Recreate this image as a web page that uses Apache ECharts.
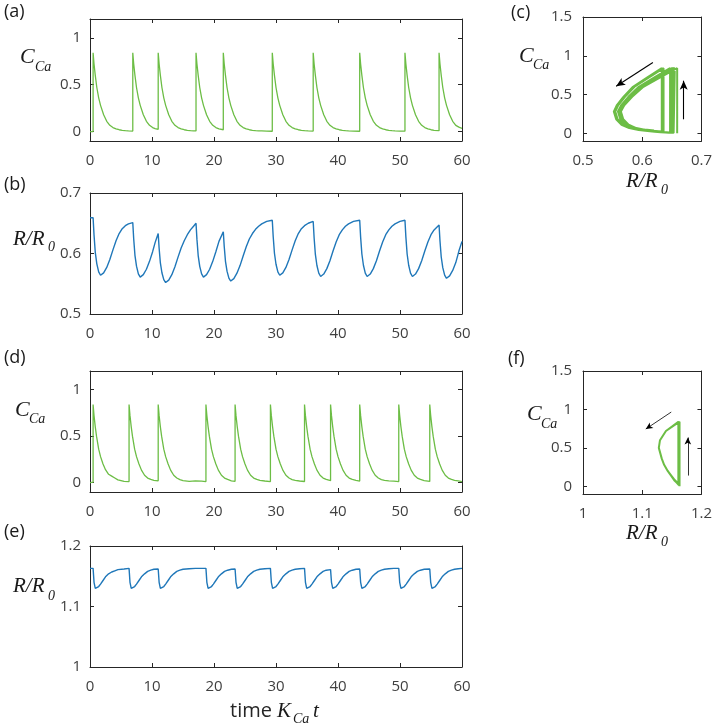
<!DOCTYPE html>
<html><head><meta charset="utf-8">
<script src="https://cdn.jsdelivr.net/npm/echarts@6/dist/echarts.min.js"></script>
<style>html,body{margin:0;padding:0;background:#fff}#c{width:715px;height:728px}</style>
</head><body><div id="c"></div>
<script>
// ---- panels (a),(b),(c): shared time base ----
const tAB = [0,0.5,0.5,0.65,0.85,1.1,1.4,1.7,2.2,2.7,3.2,3.7,4.2,4.7,5.2,5.7,6.2,6.9,
 6.9,7.05,7.25,7.5,7.8,8.1,8.6,9.1,9.6,10.1,10.5,11.0,
 11.0,11.15,11.35,11.6,11.9,12.2,12.7,13.2,13.7,14.2,14.7,15.2,15.7,16.2,16.7,17.1,
 17.1,17.25,17.45,17.7,18.0,18.3,18.8,19.3,19.8,20.3,20.8,21.5,
 21.5,21.65,21.85,22.1,22.4,22.7,23.2,23.7,24.2,24.7,25.2,25.7,26.2,26.7,27.2,27.7,28.5,29.4,
 29.4,29.55,29.75,30.0,30.3,30.6,31.1,31.6,32.1,32.6,33.1,33.6,34.1,34.6,35.2,36.0,
 36.0,36.15,36.35,36.6,36.9,37.2,37.7,38.2,38.7,39.2,39.7,40.2,40.7,41.2,41.7,42.5,43.5,
 43.5,43.65,43.85,44.1,44.4,44.7,45.2,45.7,46.2,46.7,47.2,47.7,48.2,48.7,49.2,50.0,50.8,
 50.8,50.95,51.15,51.4,51.7,52.0,52.5,53.0,53.5,54.0,54.5,55.0,55.5,56.3,
 56.3,56.45,56.65,56.9,57.2,57.5,58.0,58.5,59.0,59.5,60.0];
const cAB = [0,0,0.84,0.72,0.60,0.47,0.36,0.28,0.18,0.11,0.067,0.043,0.029,0.02,0.014,0.01,0.008,0.006,
 0.84,0.72,0.60,0.47,0.36,0.28,0.18,0.11,0.067,0.043,0.032,0.024,
 0.84,0.72,0.60,0.47,0.36,0.28,0.18,0.11,0.067,0.043,0.029,0.02,0.014,0.01,0.008,0.007,
 0.84,0.72,0.60,0.47,0.36,0.28,0.18,0.11,0.067,0.043,0.029,0.02,
 0.84,0.72,0.60,0.47,0.36,0.28,0.18,0.11,0.067,0.043,0.029,0.02,0.014,0.01,0.008,0.007,0.005,0.004,
 0.84,0.72,0.60,0.47,0.36,0.28,0.18,0.11,0.067,0.043,0.029,0.02,0.014,0.01,0.008,0.006,
 0.84,0.72,0.60,0.47,0.36,0.28,0.18,0.11,0.067,0.043,0.029,0.02,0.014,0.01,0.008,0.006,0.004,
 0.84,0.72,0.60,0.47,0.36,0.28,0.18,0.11,0.067,0.043,0.029,0.02,0.014,0.01,0.008,0.006,0.005,
 0.84,0.72,0.60,0.47,0.36,0.28,0.18,0.11,0.067,0.043,0.029,0.02,0.014,0.01,
 0.84,0.72,0.60,0.47,0.36,0.28,0.18,0.11,0.067,0.048,0.035];
const rAB = [0.659,0.659,0.659,0.6305,0.602,0.583,0.5697,0.564,0.568,0.577,0.590,0.606,0.621,0.633,0.641,0.646,0.649,0.651,
 0.651,0.624,0.597,0.579,0.5664,0.561,0.565,0.574,0.587,0.603,0.618,0.633,
 0.633,0.6087,0.5844,0.5682,0.5569,0.552,0.556,0.565,0.578,0.594,0.609,0.621,0.631,0.639,0.645,0.650,
 0.650,0.6233,0.5966,0.5788,0.5663,0.561,0.565,0.574,0.587,0.603,0.620,0.636,
 0.636,0.6115,0.5871,0.5708,0.5594,0.5545,0.5585,0.5675,0.580,0.596,0.611,0.624,0.633,0.640,0.645,0.649,0.653,0.655,
 0.655,0.6277,0.6004,0.5822,0.5695,0.564,0.568,0.577,0.590,0.606,0.621,0.633,0.641,0.646,0.650,0.653,
 0.653,0.6257,0.5984,0.5802,0.5675,0.562,0.566,0.575,0.588,0.604,0.619,0.631,0.639,0.645,0.649,0.653,0.655,
 0.655,0.6271,0.5992,0.5806,0.5676,0.562,0.566,0.575,0.588,0.604,0.619,0.631,0.639,0.645,0.649,0.653,0.655,
 0.655,0.6271,0.5992,0.5806,0.5676,0.562,0.566,0.575,0.588,0.604,0.619,0.631,0.639,0.647,
 0.647,0.6206,0.5942,0.5766,0.5643,0.559,0.563,0.572,0.585,0.604,0.620];

// ---- panels (d),(e),(f): shared time base ----
const tDE = [0,0.5,0.5,0.65,0.85,1.05,1.4,1.7,2.1,2.5,3.0,3.5,4.0,4.5,5.5,6.3,
 6.3,6.45,6.65,6.85,7.2,7.5,7.9,8.3,8.8,9.3,9.8,10.3,11.0,
 11.0,11.15,11.35,11.55,11.9,12.2,12.6,13.0,13.5,14.0,14.5,15.0,16.0,17.0,18.0,18.7,
 18.7,18.85,19.05,19.25,19.6,19.9,20.3,20.7,21.2,21.7,22.2,22.8,23.4,
 23.4,23.55,23.75,23.95,24.3,24.6,25.0,25.4,25.9,26.4,26.9,27.4,28.2,29.1,
 29.1,29.25,29.45,29.65,30.0,30.3,30.7,31.1,31.6,32.1,32.6,33.1,33.8,34.6,
 34.6,34.75,34.95,35.15,35.5,35.8,36.2,36.6,37.1,37.6,38.1,38.8,
 38.8,38.95,39.15,39.35,39.7,40.0,40.4,40.8,41.3,41.8,42.3,42.9,43.5,
 43.5,43.65,43.85,44.05,44.4,44.7,45.1,45.5,46.0,46.5,47.0,47.5,48.2,49.0,49.8,
 49.8,49.95,50.15,50.35,50.7,51.0,51.4,51.8,52.3,52.8,53.3,53.9,54.8,
 54.8,54.95,55.15,55.35,55.7,56.0,56.4,56.8,57.3,57.8,58.3,58.8,59.4,60.0];
const cDE = [0,0.005,0.84,0.72,0.60,0.50,0.36,0.28,0.20,0.14,0.09,0.07,0.05,0.03,0.015,0.012,
 0.84,0.72,0.60,0.50,0.36,0.28,0.20,0.135,0.08,0.05,0.035,0.025,0.02,
 0.84,0.72,0.60,0.50,0.36,0.28,0.20,0.135,0.08,0.05,0.033,0.022,0.015,0.02,0.016,0.012,
 0.84,0.72,0.60,0.50,0.36,0.28,0.20,0.135,0.08,0.05,0.035,0.02,0.015,
 0.84,0.72,0.60,0.50,0.36,0.28,0.20,0.135,0.08,0.05,0.035,0.025,0.018,0.012,
 0.84,0.72,0.60,0.50,0.36,0.28,0.20,0.135,0.08,0.05,0.033,0.025,0.018,0.013,
 0.84,0.72,0.60,0.50,0.36,0.28,0.20,0.135,0.08,0.05,0.035,0.022,
 0.84,0.72,0.60,0.50,0.36,0.28,0.20,0.135,0.08,0.05,0.035,0.025,0.018,
 0.84,0.72,0.60,0.50,0.36,0.28,0.20,0.135,0.08,0.05,0.033,0.025,0.02,0.016,0.012,
 0.84,0.72,0.60,0.50,0.36,0.28,0.20,0.135,0.08,0.05,0.035,0.022,0.014,
 0.84,0.72,0.60,0.50,0.36,0.28,0.20,0.135,0.08,0.05,0.035,0.025,0.02,0.012];
const rDE = [1.163,1.163,1.163,1.140,1.130,1.128,1.133,1.137,1.143,1.149,1.154,1.157,1.159,1.161,1.162,1.163,
 1.163,1.140,1.130,1.128,1.133,1.137,1.143,1.149,1.154,1.158,1.160,1.1615,1.162,
 1.162,1.140,1.130,1.128,1.133,1.137,1.143,1.149,1.154,1.158,1.160,1.1615,1.1625,1.163,1.163,1.163,
 1.163,1.140,1.130,1.128,1.133,1.137,1.143,1.149,1.154,1.158,1.160,1.1615,1.162,
 1.162,1.140,1.130,1.128,1.133,1.137,1.143,1.149,1.154,1.158,1.160,1.1615,1.1625,1.163,
 1.163,1.140,1.130,1.128,1.133,1.137,1.143,1.149,1.154,1.158,1.160,1.1615,1.1625,1.163,
 1.163,1.140,1.130,1.128,1.133,1.137,1.143,1.149,1.154,1.158,1.160,1.161,
 1.161,1.140,1.130,1.128,1.133,1.137,1.143,1.149,1.154,1.158,1.160,1.1615,1.162,
 1.162,1.140,1.130,1.128,1.133,1.137,1.143,1.149,1.154,1.158,1.160,1.1615,1.1625,1.163,1.163,
 1.163,1.140,1.130,1.128,1.133,1.137,1.143,1.149,1.154,1.158,1.160,1.1615,1.162,
 1.162,1.140,1.130,1.128,1.133,1.137,1.143,1.149,1.154,1.158,1.160,1.1615,1.1625,1.163];

// ---- tick labels ----
const timeTicks = [0,10,20,30,40,50,60];
const caTicksTS = [0,0.5,1];
const caTicksPP = [0,0.5,1,1.5];
const rTicksB = [0.5,0.6,0.7];
const rTicksE = [1,1.1,1.2];
const rTicksC = [0.5,0.6,0.7];
const rTicksF = [1,1.1,1.2];

// ---- arrow annotations (data coords) ----
const arrowsC = [[[0.618,0.913],[0.556,0.607]],[[0.670,0.18],[0.670,0.678]]];
const arrowsF = [[[1.149,0.966],[1.106,0.745]],[[1.177,0.14],[1.177,0.635]]];

const GREEN = '#6cbd45', BLUE = '#1f77b9', AXC = '#262626', LBLC = '#404040';
const TICKFONT = 'Open Sans';

const grids = [
  {left:90, top:19, width:372, height:122},
  {left:90, top:193, width:372, height:121},
  {left:90, top:371, width:372, height:121},
  {left:90, top:546, width:372, height:121},
  {left:583, top:17, width:122, height:124},
  {left:583, top:371, width:122, height:123}
];

function axis(grid, min, max, ticks, pos, showLabel, margin) {
  return {
    type:'value', gridIndex:grid, min:min, max:max, position:pos,
    axisLine:{show:true, onZero:false, lineStyle:{color:AXC, width:1}},
    axisTick:{show:true, inside:true, length:4, customValues:ticks, lineStyle:{color:AXC, width:1}},
    axisLabel:{show:showLabel, customValues:ticks, color:LBLC, fontSize:15, fontFamily:TICKFONT, margin:margin},
    splitLine:{show:false}
  };
}
const xSpec = [
  [0,60,timeTicks],[0,60,timeTicks],[0,60,timeTicks],[0,60,timeTicks],
  [0.5,0.7,rTicksC],[1,1.2,rTicksF]
];
const ySpec = [
  [-0.1,1.2,caTicksTS],[0.5,0.7,rTicksB],[-0.1,1.2,caTicksTS],[1,1.2,rTicksE],
  [-0.1,1.5,caTicksPP],[-0.1,1.5,caTicksPP]
];
const xAxes = [], yAxes = [];
for (let g=0; g<6; g++) {
  xAxes.push(axis(g, xSpec[g][0], xSpec[g][1], xSpec[g][2], 'bottom', true, 12));
  xAxes.push(axis(g, xSpec[g][0], xSpec[g][1], xSpec[g][2], 'top', false, 12));
  yAxes.push(axis(g, ySpec[g][0], ySpec[g][1], ySpec[g][2], 'left', true, g>=4 ? 11 : 9));
  yAxes.push(axis(g, ySpec[g][0], ySpec[g][1], ySpec[g][2], 'right', false, 9));
}

function pairs(xs, ys) { return xs.map((x,i)=>[x, ys[i]]); }
function lineSeries(g, data, color, width, extra) {
  return Object.assign({
    type:'line', xAxisIndex:2*g, yAxisIndex:2*g, data:data, showSymbol:false, symbol:'none',
    lineStyle:{color:color, width:width}, itemStyle:{color:color}, animation:false, silent:true, clip:true
  }, extra||{});
}
function arrowMark(list, width, size) {
  return {
    silent:true, animation:false, symbol:['none','arrow'], symbolSize:size,
    label:{show:false}, lineStyle:{color:'#000', width:width, type:'solid'},
    emphasis:{disabled:true},
    data:list.map(a=>[{coord:a[0]},{coord:a[1]}])
  };
}

function txt(x, y, text, font, color, align) {
  return {type:'text', x:x, y:y, silent:true,
    style:{text:text, font:font, fill:color||'#1a1a1a', align:align||'left', textAlign:align||'left',
      verticalAlign:'middle', textVerticalAlign:'middle'}};
}
const SERIF = '"Liberation Serif"';
const capF = 'italic 22px ' + SERIF, subF = 'italic 14px ' + SERIF, rF = 'italic 21px ' + SERIF;
const panF = '18px "Open Sans"';
const graphics = [
  txt(4,12,'(a)',panF), txt(4,185,'(b)',panF), txt(4,358,'(d)',panF), txt(4,532,'(e)',panF),
  txt(511,13,'(c)',panF), txt(508,359,'(f)',panF),
  // C_Ca labels
  txt(20,57,'C',capF), txt(35,67,'Ca',subF),
  txt(15,410,'C',capF), txt(29,419,'Ca',subF),
  txt(519,56,'C',capF), txt(533,65,'Ca',subF),
  txt(527,414,'C',capF), txt(541,424,'Ca',subF),
  // R/R0 labels
  txt(13,239,'R/R',rF), txt(48,247,'0',subF),
  txt(13,586,'R/R',rF), txt(48,596,'0',subF),
  txt(626,181,'R/R',rF), txt(661,190,'0',subF),
  txt(626,533,'R/R',rF), txt(661,542,'0',subF),
  // time axis title
  txt(230,711,'time','20px "Open Sans"','#262626'),
  txt(277,711,'K','italic 21px ' + SERIF), txt(293,719,'Ca',subF), txt(313,711,'t','italic 21px ' + SERIF)
];

const option = {
  backgroundColor:'#fff',
  animation:false,
  grid:grids,
  xAxis:xAxes,
  yAxis:yAxes,
  series:[
    lineSeries(0, pairs(tAB,cAB), GREEN, 1.3),
    lineSeries(1, pairs(tAB,rAB), BLUE, 1.4),
    lineSeries(2, pairs(tDE,cDE), GREEN, 1.3),
    lineSeries(3, pairs(tDE,rDE), BLUE, 1.4),
    lineSeries(4, pairs(rAB,cAB), GREEN, 2, {markLine:arrowMark(arrowsC, 1.1, [6,9])}),
    lineSeries(5, pairs(rDE,cDE), GREEN, 2, {markLine:arrowMark(arrowsF, 0.8, [5,7])})
  ],
  graphic:graphics
};
const chart = echarts.init(document.getElementById('c'), null, {renderer:'canvas'});
chart.setOption(option);
</script>
</body></html>
